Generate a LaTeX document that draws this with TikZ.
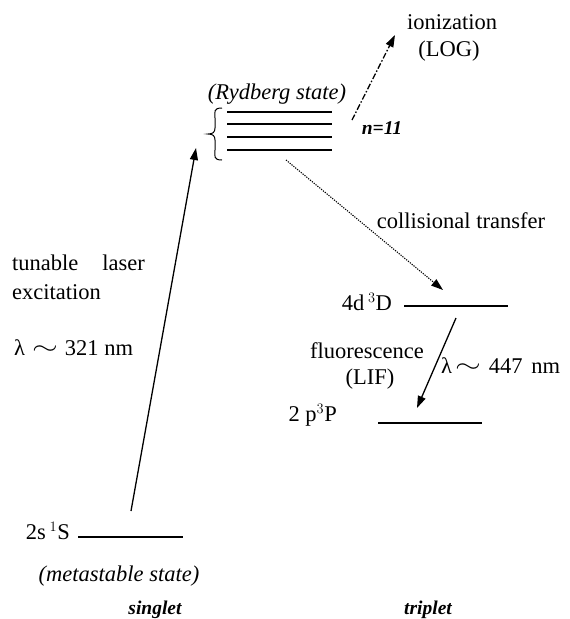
\documentclass[tikz,border=0pt]{standalone}
\usepackage{fontspec}
\usepackage{graphicx}
\setmainfont{Liberation Serif}
\usetikzlibrary{arrows.meta}
\newcommand{\widesim}{\raisebox{1pt}{\scalebox{1.6}[1.15]{$\sim$}}}
\begin{document}
\begin{tikzpicture}[x=1pt,y=-1pt,
  txt/.style={inner sep=0pt, anchor=base, font=\fontsize{22.5}{26}\selectfont},
  itx/.style={txt, font=\fontsize{22.5}{26}\selectfont\itshape},
  bix/.style={txt, font=\fontsize{19.5}{22}\selectfont\bfseries\itshape},
  level/.style={line width=2pt},
  arr/.style={line width=1.3pt, -{Triangle[length=12pt,width=8pt]}},
]
\useasboundingbox (0,0) rectangle (570,619);
% texts
\node[txt] (ion) at (452,29) {ionization};
\node[txt] (log) at (449,56) {(LOG)};
\node[itx] (ryd) at (277,99) {(Rydberg state)};
\node[bix] (n11) at (382,134) {n=11};
\node[txt] (coll) at (461,228) {collisional transfer};
\node[txt,anchor=base east] (d4) at (392,310) {4d\,$^3$D};
\node[txt] (fluo) at (367,358) {fluorescence};
\node[txt] (lif) at (370,384) {(LIF)};
\node[txt,anchor=base west] (l447) at (441,373) {λ\hspace{3pt}\widesim\hspace{8pt}447\hspace{3pt} nm};
\node[txt,anchor=base east] (p2) at (337,421) {2 p$^3$P};
\node[txt,anchor=base east] (s2) at (70,539) {2s\,$^1$S};
\node[itx] (meta) at (119,581) {(metastable state)};
\node[bix] (sing) at (155,614) {singlet};
\node[bix] (trip) at (428,614) {triplet};
\node[txt,anchor=base west] (tun) at (12,270) {tunable};
\node[txt,anchor=base east] (las) at (145,270) {laser};
\node[txt,anchor=base west] (exc) at (12,299) {excitation};
\node[txt,anchor=base west] (l321) at (14,355) {λ\hspace{7pt}\widesim\hspace{7pt}321 nm};
% levels
\coordinate (r1a) at (227,112); \coordinate (r1b) at (332,112);
\coordinate (r2a) at (227,124); \coordinate (r2b) at (332,124);
\coordinate (r3a) at (227,137); \coordinate (r3b) at (332,137);
\coordinate (r4a) at (227,150); \coordinate (r4b) at (332,150);
\draw[level] (r1a) -- (r1b);
\draw[level] (r2a) -- (r2b);
\draw[level] (r3a) -- (r3b);
\draw[level] (r4a) -- (r4b);
\coordinate (bt) at (222,108); \coordinate (bb) at (222,160);
\draw[line width=1pt] (bt) .. controls (213,108) and (215,112) .. (215,118)
  -- (215,128) .. controls (215,132) and (213,134) .. (208,134)
  .. controls (213,134) and (215,136) .. (215,140)
  -- (215,150) .. controls (215,156) and (213,160) .. (bb);
\coordinate (d4a) at (404,306); \coordinate (d4b) at (508,306);
\draw[level] (d4a) -- (d4b);
\coordinate (p2a) at (378,423); \coordinate (p2b) at (482,423);
\draw[level] (p2a) -- (p2b);
\coordinate (s2a) at (78,537); \coordinate (s2b) at (183,537);
\draw[level] (s2a) -- (s2b);
% arrows
\coordinate (lasS) at (131,511); \coordinate (lasE) at (196,148);
\draw[arr] (lasS) -- (lasE);
\coordinate (ionS) at (352,120); \coordinate (ionE) at (395,35);
\draw[arr, dash pattern=on 6pt off 2pt on 1.5pt off 2pt] (ionS) -- (ionE);
\coordinate (colS) at (286,160); \coordinate (colE) at (443,290);
\draw[arr, line width=1.1pt, dash pattern=on 1.2pt off 1.2pt] (colS) -- (colE);
\coordinate (fluS) at (456,318); \coordinate (fluE) at (417,408);
\draw[arr] (fluS) -- (fluE);
\end{tikzpicture}
\end{document}
